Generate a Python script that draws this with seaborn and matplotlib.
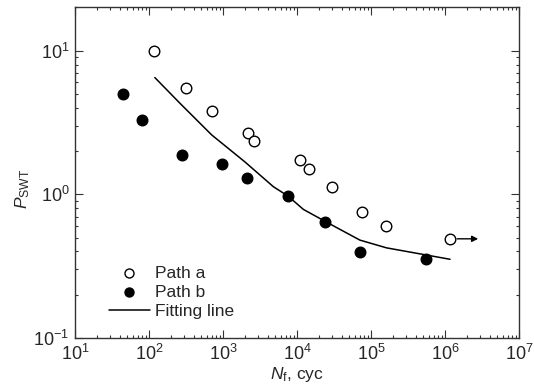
import numpy as np
import pandas as pd
import matplotlib
matplotlib.use("Agg")
import matplotlib.pyplot as plt
import seaborn as sns

# data (log-log)
path_a_n = [117, 316, 708, 2180, 2630, 11000, 14400, 29500, 76000, 160000, 1.17e6]
path_a_p = [10.0, 5.53, 3.77, 2.65, 2.33, 1.72, 1.49, 1.12, 0.75, 0.60, 0.49]

path_b_n = [44, 80, 279, 960, 2100, 7600, 24000, 71600, 558000]
path_b_p = [4.99, 3.29, 1.88, 1.63, 1.30, 0.97, 0.645, 0.394, 0.353]

fit_n = [120, 262, 703, 1980, 4790, 7600, 12200, 24400, 70800, 162000, 1.17e6]
fit_p = [6.49, 4.30, 2.59, 1.68, 1.13, 0.97, 0.785, 0.645, 0.48, 0.424, 0.353]

df_a = pd.DataFrame({"N": path_a_n, "P": path_a_p})
df_b = pd.DataFrame({"N": path_b_n, "P": path_b_p})
df_fit = pd.DataFrame({"N": fit_n, "P": fit_p})

sns.set_style("ticks")
plt.rcParams["font.family"] = ["Liberation Sans", "DejaVu Sans"]
plt.rcParams["mathtext.fontset"] = "custom"
plt.rcParams["mathtext.rm"] = "Liberation Sans"
plt.rcParams["mathtext.it"] = "Liberation Sans:italic"
plt.rcParams["mathtext.bf"] = "Liberation Sans:bold"
plt.rcParams["axes.unicode_minus"] = False

fig = plt.figure(figsize=(5.34, 3.87), dpi=100)
ax = fig.add_axes([0.1404, 0.1266, 0.8315, 0.8545])

sns.scatterplot(data=df_a, x="N", y="P", ax=ax, marker="o", s=58,
                facecolor="white", edgecolor="black", linewidth=1.0,
                label="Path a", zorder=3)
sns.scatterplot(data=df_b, x="N", y="P", ax=ax, marker="o", s=58,
                color="black", edgecolor="black", linewidth=1.0,
                label="Path b", zorder=3)
sns.lineplot(data=df_fit, x="N", y="P", ax=ax, color="black", linewidth=1.1,
             label="Fitting line", zorder=2)

# run-out arrow on the last Path a point
ax.annotate("", xy=(path_a_n[-1] * 2.4, path_a_p[-1]),
            xytext=(path_a_n[-1] * 1.25, path_a_p[-1]),
            arrowprops=dict(arrowstyle="-|>", color="black", lw=1.0,
                            mutation_scale=9, shrinkA=0, shrinkB=0))

ax.set_xscale("log")
ax.set_yscale("log")
ax.set_xlim(10, 1e7)
ax.set_ylim(0.1, 20)
ax.set_xticks([1e1, 1e2, 1e3, 1e4, 1e5, 1e6, 1e7])
ax.set_yticks([1e-1, 1e0, 1e1])

ax.set_xlabel(r"$N_{\rm f}$, cyc", fontsize=12.5, labelpad=1)
ax.set_ylabel(r"$P_{\rm SWT}$", fontsize=12.5)
ax.yaxis.set_label_coords(-0.097, 0.45)

ax.tick_params(which="both", direction="in", top=True, right=True,
               labelsize=13, width=0.8, color="#333333")
ax.tick_params(which="major", length=5.5, pad=4)
ax.tick_params(which="minor", length=2.5)
for sp in ax.spines.values():
    sp.set_linewidth(1.0)
    sp.set_color("#333333")

leg = ax.legend(loc="lower left", bbox_to_anchor=(0.06, 0.035), frameon=False,
                fontsize=12.5, handlelength=2.4, handletextpad=0.25,
                labelspacing=0.25, borderaxespad=0, markerscale=0.85)

fig.savefig("out.png", dpi=100)
